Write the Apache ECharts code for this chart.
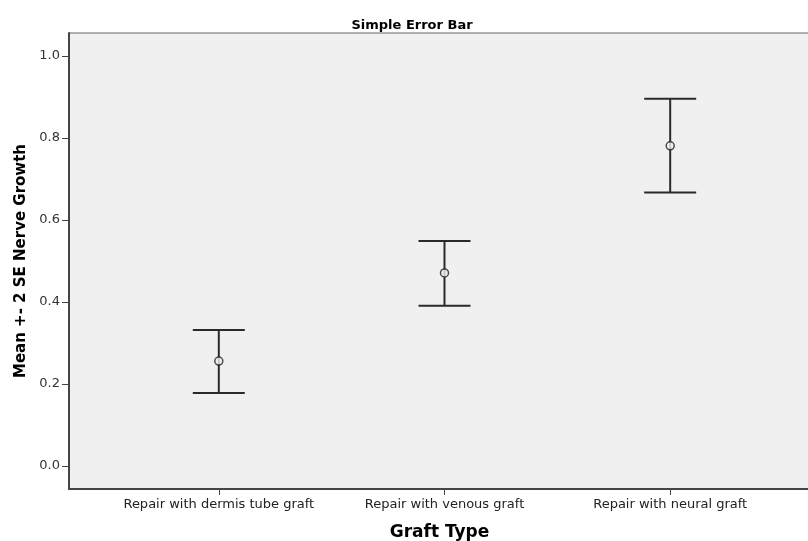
<!DOCTYPE html>
<html>
<head>
<meta charset="utf-8">
<script src="https://cdn.jsdelivr.net/npm/echarts@6/dist/echarts.min.js"></script>
<style>
  html, body { margin: 0; padding: 0; background: #fff; overflow: hidden; }
  #chart { width: 808px; height: 541px; }
</style>
</head>
<body>
<div id="chart"></div>
<script>
// values
const categories = ["Repair with dermis tube graft", "Repair with venous graft", "Repair with neural graft"];
const means = [0.256, 0.471, 0.781];
const lowers = [0.178, 0.391, 0.667];
const uppers = [0.332, 0.549, 0.896];
const yTicks = [0, 0.2, 0.4, 0.6, 0.8, 1.0];

const font = "DejaVu Sans, Verdana, sans-serif";
const positions = categories.map((c, i) => i + 1);

const chart = echarts.init(document.getElementById("chart"));

chart.setOption({
  animation: false,
  backgroundColor: "#ffffff",
  title: {
    text: "Simple Error Bar",
    left: 407,
    top: 14,
    textAlign: "center",
    textStyle: { fontFamily: font, fontSize: 13, fontWeight: "bold", color: "#000" }
  },
  grid: {
    left: 69, top: 33, width: 741, height: 456,
    outerBoundsMode: "none",
    containLabel: false,
    show: true,
    backgroundColor: "#f0f0f0",
    borderColor: "#666",
    borderWidth: 1
  },
  xAxis: {
    type: "value",
    min: 1 - 150 / 226,
    max: 3 + 140 / 226,
    splitLine: { show: false },
    axisLine: { show: true, onZero: false, lineStyle: { color: "#444", width: 2 } },
    axisTick: { show: true, length: 6, customValues: positions, lineStyle: { color: "#444", width: 1 } },
    axisLabel: {
      customValues: positions,
      formatter: v => categories[Math.round(v) - 1] || "",
      fontFamily: font, fontSize: 13, color: "#222", margin: 9
    },
    name: "Graft Type",
    nameLocation: "middle",
    nameGap: 35,
    nameTextStyle: { fontFamily: font, fontSize: 17, fontWeight: "bold", color: "#000" }
  },
  yAxis: {
    type: "value",
    min: -23 / 410,
    max: 1 + 23 / 410,
    splitLine: { show: false },
    axisLine: { show: true, onZero: false, lineStyle: { color: "#444", width: 2 } },
    axisTick: { show: true, length: 7, customValues: yTicks, lineStyle: { color: "#444", width: 1 } },
    axisLabel: {
      customValues: yTicks,
      formatter: v => v.toFixed(1),
      fontFamily: font, fontSize: 13, color: "#333", margin: 9
    },
    name: "Mean +- 2 SE Nerve Growth",
    nameLocation: "middle",
    nameGap: 40,
    nameTextStyle: { fontFamily: font, fontSize: 15, fontWeight: "bold", color: "#000" }
  },
  series: [
    {
      type: "custom",
      data: positions.map((x, i) => [x, lowers[i], uppers[i]]),
      renderItem: function (params, api) {
        const lo = api.coord([api.value(0), api.value(1)]);
        const hi = api.coord([api.value(0), api.value(2)]);
        const hw = 26;
        const style = { stroke: "#2a2a2a", lineWidth: 2 };
        return {
          type: "group",
          children: [
            { type: "line", shape: { x1: lo[0], y1: lo[1], x2: hi[0], y2: hi[1] }, style: style },
            { type: "line", shape: { x1: lo[0] - hw, y1: lo[1], x2: lo[0] + hw, y2: lo[1] }, style: style },
            { type: "line", shape: { x1: hi[0] - hw, y1: hi[1], x2: hi[0] + hw, y2: hi[1] }, style: style }
          ]
        };
      },
      z: 2
    },
    {
      type: "scatter",
      data: positions.map((x, i) => [x, means[i]]),
      symbol: "circle",
      symbolSize: 8,
      itemStyle: { color: "#f0f0f0", borderColor: "#222", borderWidth: 1.5 },
      z: 3
    }
  ]
});
</script>
</body>
</html>
